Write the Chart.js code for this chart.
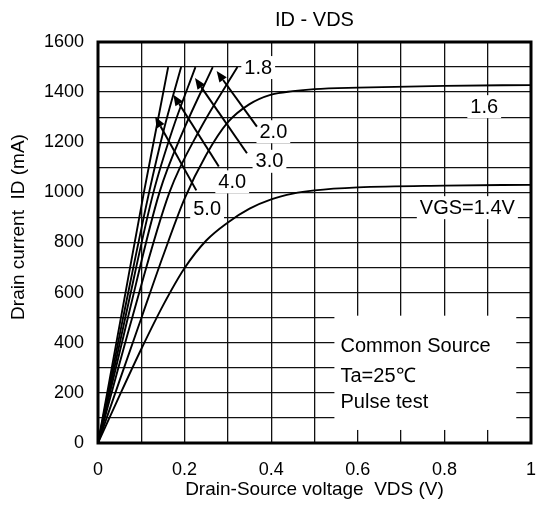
<!DOCTYPE html>
<html>
<head>
<meta charset="utf-8">
<script src="https://cdn.jsdelivr.net/npm/chart.js@4"></script>
<style>
  html, body { margin: 0; padding: 0; background: #fff; }
</style>
</head>
<body>
<canvas id="idvdsChart" width="536" height="505"></canvas>
<script>
const FONT = '"Liberation Sans", Arial, sans-serif';

// ID (mA) vs VDS (V), one pair of arrays per gate voltage
const vds14 = [0, 0.05, 0.1, 0.15, 0.2, 0.25, 0.3, 0.35, 0.4, 0.45, 0.5, 0.6, 0.8, 1.0];
const id14  = [0, 190, 375, 548, 698, 808, 880, 935, 972, 995, 1008, 1020, 1027, 1030];

const vds16 = [0, 0.05, 0.1, 0.15, 0.2, 0.25, 0.3, 0.35, 0.4, 0.45, 0.5, 0.6, 0.8, 1.0];
const id16  = [0, 250, 498, 745, 975, 1150, 1280, 1352, 1390, 1404, 1412, 1418, 1425, 1428];

const idSteep = [0, 500, 1000, 1250, 1500];
const vds18 = [0, 0.079, 0.165, 0.235, 0.322];
const vds20 = [0, 0.069, 0.142, 0.198, 0.265];
const vds30 = [0, 0.063, 0.128, 0.172, 0.225];
const vds40 = [0, 0.058, 0.118, 0.152, 0.192];
const vds50 = [0, 0.053, 0.106, 0.134, 0.162];

const xTickLabels = ["0", "0.2", "0.4", "0.6", "0.8", "1"];
const yTickLabels = ["0", "200", "400", "600", "800", "1000", "1200", "1400", "1600"];

// curve labels (text, VDS, ID at centre)
const curveLabels = ["1.8", "2.0", "3.0", "4.0", "5.0", "1.6", "VGS=1.4V"];
const labelV = [0.370, 0.405, 0.396, 0.310, 0.252, 0.892, 0.853];
const labelI = [1496, 1240, 1122, 1040, 933, 1340, 937];

// arrows from labels to curves: tail VDS/ID, tip VDS/ID
const arrowTailV = [0.367, 0.344, 0.279, 0.227];
const arrowTailI = [1262, 1156, 1103, 1008];
const arrowTipV  = [0.274, 0.224, 0.174, 0.132];
const arrowTipI  = [1484, 1456, 1390, 1302];

const noteLines = ["Common Source", "Ta=25\u2103", "Pulse test"];
const noteV = 0.56;
const noteI = [385, 267, 160];
const noteBoxV = [0.546, 0.966];
const noteBoxI = [52, 508];

function pts(vs, is) {
  return vs.map((v, i) => ({ x: v, y: is[i] }));
}

function curve(label, vs, is) {
  return {
    label: label,
    data: pts(vs, is),
    borderColor: "#000",
    borderWidth: 1.9,
    pointRadius: 0,
    cubicInterpolationMode: "monotone",
    fill: false,
  };
}

const annotate = {
  id: "annotate",
  beforeDatasetsDraw(chart) {
    const { ctx, scales: { x, y } } = chart;
    ctx.save();
    ctx.fillStyle = "#fff";
    const bx0 = x.getPixelForValue(noteBoxV[0]);
    const bx1 = x.getPixelForValue(noteBoxV[1]);
    const by0 = y.getPixelForValue(noteBoxI[1]);
    const by1 = y.getPixelForValue(noteBoxI[0]);
    ctx.fillRect(bx0, by0, bx1 - bx0, by1 - by0);
    ctx.font = `20px ${FONT}`;
    curveLabels.forEach((t, i) => {
      const cx = x.getPixelForValue(labelV[i]);
      const cy = y.getPixelForValue(labelI[i]);
      const w = ctx.measureText(t).width + 6;
      ctx.fillRect(cx - w / 2, cy - 12, w, 23);
    });
    ctx.restore();
  },
  afterDatasetsDraw(chart) {
    const { ctx, chartArea: a, scales: { x, y } } = chart;
    ctx.save();

    // arrows
    ctx.strokeStyle = "#000";
    ctx.fillStyle = "#000";
    ctx.lineWidth = 2;
    arrowTailV.forEach((tv, i) => {
      const x0 = x.getPixelForValue(tv), y0 = y.getPixelForValue(arrowTailI[i]);
      const x1 = x.getPixelForValue(arrowTipV[i]), y1 = y.getPixelForValue(arrowTipI[i]);
      const ang = Math.atan2(y1 - y0, x1 - x0);
      const len = 11, hw = 4.5;
      const bx = x1 - len * Math.cos(ang), by = y1 - len * Math.sin(ang);
      ctx.beginPath();
      ctx.moveTo(x0, y0);
      ctx.lineTo(bx, by);
      ctx.stroke();
      ctx.beginPath();
      ctx.moveTo(x1, y1);
      ctx.lineTo(bx + hw * Math.sin(ang), by - hw * Math.cos(ang));
      ctx.lineTo(bx - hw * Math.sin(ang), by + hw * Math.cos(ang));
      ctx.closePath();
      ctx.fill();
    });

    // labels
    ctx.font = `20px ${FONT}`;
    ctx.textAlign = "center";
    ctx.textBaseline = "middle";
    curveLabels.forEach((t, i) => {
      ctx.fillText(t, x.getPixelForValue(labelV[i]), y.getPixelForValue(labelI[i]));
    });
    ctx.textAlign = "left";
    noteLines.forEach((t, i) => {
      ctx.fillText(t, x.getPixelForValue(noteV), y.getPixelForValue(noteI[i]));
    });

    // y axis title
    ctx.save();
    ctx.font = `19px ${FONT}`;
    ctx.textAlign = "center";
    ctx.translate(19, 227);
    ctx.rotate(-Math.PI / 2);
    ctx.fillText("Drain current  ID (mA)", 0, 0);
    ctx.restore();

    // frame
    ctx.lineWidth = 3;
    ctx.strokeRect(a.left, a.top, a.right - a.left, a.bottom - a.top);
    ctx.restore();
  },
};

const ctx = document.getElementById("idvdsChart").getContext("2d");
new Chart(ctx, {
  type: "line",
  data: {
    datasets: [
      curve("1.4", vds14, id14),
      curve("1.6", vds16, id16),
      curve("1.8", vds18, idSteep),
      curve("2.0", vds20, idSteep),
      curve("3.0", vds30, idSteep),
      curve("4.0", vds40, idSteep),
      curve("5.0", vds50, idSteep),
    ],
  },
  options: {
    responsive: false,
    animation: false,
    devicePixelRatio: 1,
    layout: { padding: { left: 0, right: 5, top: 0, bottom: 0 } },
    plugins: {
      legend: { display: false },
      tooltip: { enabled: false },
      title: {
        display: true,
        text: "ID - VDS",
        color: "#000",
        fullSize: false,
        font: { size: 20, family: FONT, weight: "normal" },
        padding: { top: 8, bottom: 10 },
      },
    },
    scales: {
      x: {
        type: "linear",
        min: 0,
        max: 1,
        afterFit: (s) => { s.height = 62; s.paddingLeft = 0; s.paddingRight = 0; },
        grid: { color: "#111", lineWidth: 1.3, drawTicks: false },
        border: { display: false },
        ticks: {
          stepSize: 0.1,
          autoSkip: false,
          maxRotation: 0,
          padding: 16,
          color: "#000",
          font: { size: 18, family: FONT },
          callback: (v) => {
            const k = Math.round(v * 10);
            return k % 2 === 0 ? xTickLabels[k / 2] : "";
          },
        },
        title: {
          display: true,
          text: "Drain-Source voltage  VDS (V)",
          color: "#000",
          font: { size: 19, family: FONT },
          padding: { top: 0, bottom: 4 },
        },
      },
      y: {
        type: "linear",
        min: 0,
        max: 1600,
        afterFit: (s) => { s.width = 98; s.paddingTop = 0; s.paddingBottom = 0; },
        grid: { color: "#111", lineWidth: 1.3, drawTicks: false },
        border: { display: false },
        ticks: {
          stepSize: 100,
          autoSkip: false,
          padding: 14,
          color: "#000",
          font: { size: 18, family: FONT },
          callback: (v) => {
            const k = Math.round(v / 100);
            return k % 2 === 0 ? yTickLabels[k / 2] : "";
          },
        },
      },
    },
  },
  plugins: [annotate],
});
</script>
</body>
</html>
